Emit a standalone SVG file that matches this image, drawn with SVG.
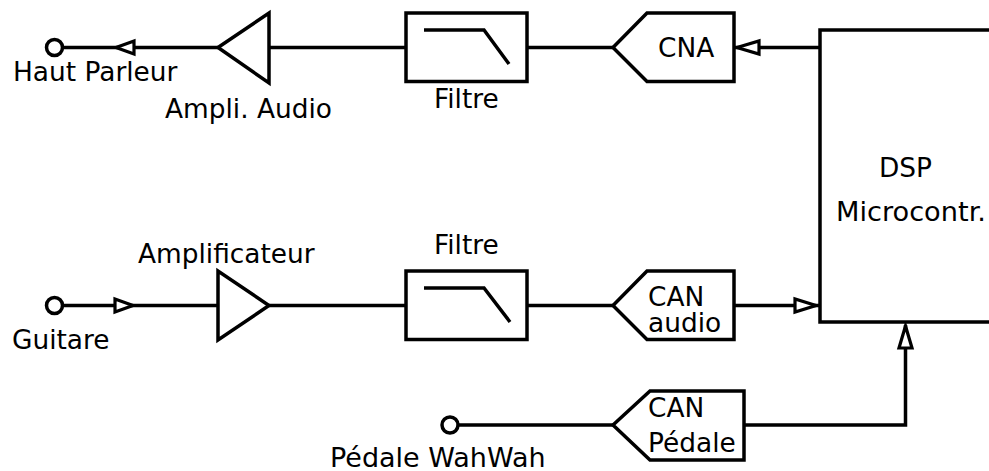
<svg xmlns="http://www.w3.org/2000/svg" width="989" height="471" viewBox="0 0 989 471">
<style>
.s{fill:#fff;stroke:#000;stroke-width:3.5;stroke-linejoin:miter}
.l{fill:none;stroke:#000;stroke-width:3.5}
.a{fill:#fff;stroke:#000;stroke-width:3.2}
.t{font-family:"DejaVu Sans",sans-serif;font-size:26.400px;fill:#000}
</style>
<rect width="989" height="471" fill="#fff"/>
<g id="connectors">
<path class="l" d="M62 47.500H218M269 47.500H406M527 47.500H613M734 47.500H820"/>
<path class="l" d="M62 305.500H218M269 305.500H406M527 305.500H613M734 305.500H820"/>
<path class="l" d="M458 425H613M744 425H905.500V325"/>
<path class="a" d="M116 47.500L134 41V54Z"/>
<path class="a" d="M737 47.500L759 41V54Z"/>
<path class="a" d="M133 305.500L115 299V312Z"/>
<path class="a" d="M816 305.500L795 299V312Z"/>
<path class="a" d="M905.500 326L899 348H912Z"/>
</g>
<g id="haut-parleur"><circle class="s" cx="54.500" cy="47.500" r="8"/><text class="t" x="13" y="81">Haut Parleur</text></g>
<g id="ampli-audio"><path class="s" d="M218 47.500L269 13V83Z"/><text class="t" x="165" y="118">Ampli. Audio</text></g>
<g id="filtre-1"><rect class="s" x="406" y="13" width="121" height="68.500"/><path class="l" d="M424 30H484L509 64"/><text class="t" x="434" y="108">Filtre</text></g>
<g id="cna"><path class="s" d="M613 47.500L647 13H734V81.500H647Z"/><text class="t" x="658" y="57">CNA</text></g>
<g id="dsp"><path class="s" d="M995 30H820V322H995"/><text class="t" x="879" y="177">DSP</text><text class="t" x="836" y="221" style="font-size:27.200px">Microcontr.</text></g>
<g id="guitare"><circle class="s" cx="54.500" cy="305.500" r="8"/><text class="t" x="12" y="349">Guitare</text></g>
<g id="amplificateur"><path class="s" d="M218 271V340L269 305.500Z"/><text class="t" x="138" y="263">Amplificateur</text></g>
<g id="filtre-2"><rect class="s" x="406" y="271" width="121" height="68.500"/><path class="l" d="M424 288H484L510 322"/><text class="t" x="434" y="254">Filtre</text></g>
<g id="can-audio"><path class="s" d="M613 305.500L647 271H734V339.500H647Z"/><text class="t" x="648" y="306">CAN</text><text class="t" x="648" y="332">audio</text></g>
<g id="can-pedale"><path class="s" d="M613 425L650 391H744V460H650Z"/><text class="t" x="648" y="417">CAN</text><text class="t" x="648" y="452">Pédale</text></g>
<g id="pedale-wahwah"><circle class="s" cx="450" cy="425" r="8"/><text class="t" x="330" y="467" style="font-size:27px">Pédale WahWah</text></g>
</svg>
